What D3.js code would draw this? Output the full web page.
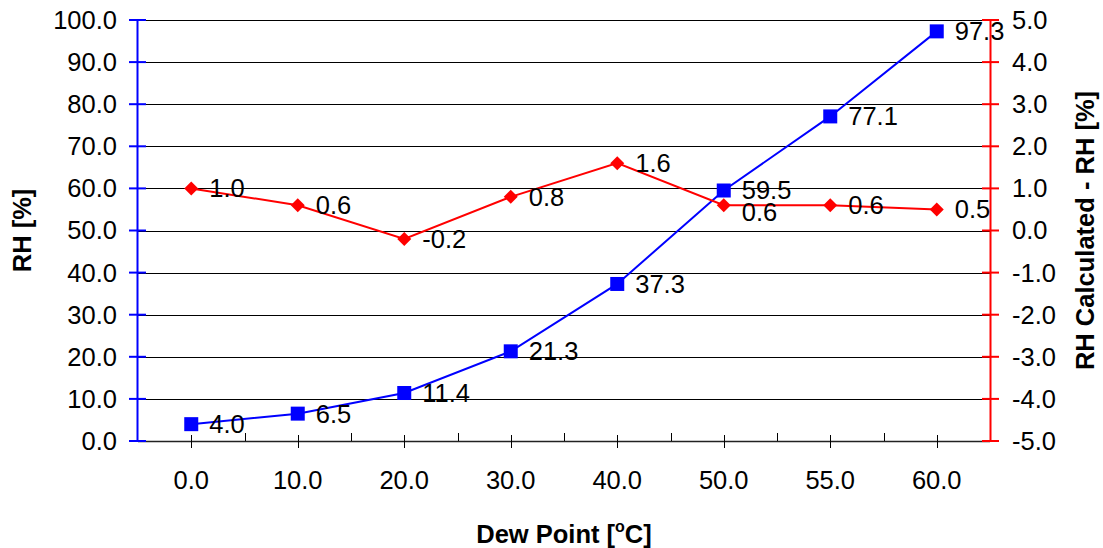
<!DOCTYPE html>
<html>
<head>
<meta charset="utf-8">
<script src="https://cdn.jsdelivr.net/npm/d3@7"></script>
<style>
  html, body { margin: 0; padding: 0; background: #fff; }
  text { font-family: "Liberation Sans", Arial, sans-serif; fill: #000; }
</style>
</head>
<body>
<svg id="chart" width="1103" height="548"></svg>
<script>
// ---- data ----
const categories = ["0.0", "10.0", "20.0", "30.0", "40.0", "50.0", "55.0", "60.0"];
const rhValues = [4.0, 6.5, 11.4, 21.3, 37.3, 59.5, 77.1, 97.3];
const diffValues = [1.0, 0.6, -0.2, 0.8, 1.6, 0.6, 0.6, 0.5];
const leftTicks = [0, 10, 20, 30, 40, 50, 60, 70, 80, 90, 100];
const rightTicks = [-5, -4, -3, -2, -1, 0, 1, 2, 3, 4, 5];
const xTitle = "Dew Point [";
const xTitleSup = "o";
const xTitleEnd = "C]";
const leftTitle = "RH [%]";
const rightTitle = "RH Calculated - RH [%]";

// ---- layout ----
const svg = d3.select("#chart");
const L = 138, R = 990, T = 20, B = 441;
const fs = 25.5;

const xBand = d3.scaleBand().domain(categories).range([L, R]).padding(0);
const xc = c => xBand(c) + xBand.bandwidth() / 2;
const yL = d3.scaleLinear().domain([0, 100]).range([B, T]);
const yR = d3.scaleLinear().domain([-5, 5]).range([B, T]);
const fmt = v => v.toFixed(1);

// gridlines
svg.append("g").selectAll("line").data(leftTicks.filter(v => v > 0)).join("line")
  .attr("x1", L).attr("x2", R)
  .attr("y1", d => Math.round(yL(d)) + 0.5).attr("y2", d => Math.round(yL(d)) + 0.5)
  .attr("stroke", "#000").attr("stroke-width", 1);

// x axis line
svg.append("line").attr("x1", L).attr("x2", R).attr("y1", B + 0.5).attr("y2", B + 0.5)
  .attr("stroke", "#222").attr("stroke-width", 1.5);

// x ticks: center ticks cross, boundary ticks inside
svg.append("g").selectAll("line").data(categories).join("line")
  .attr("x1", d => Math.round(xc(d)) + 0.5).attr("x2", d => Math.round(xc(d)) + 0.5)
  .attr("y1", B - 6).attr("y2", B + 7).attr("stroke", "#000").attr("stroke-width", 1);
svg.append("g").selectAll("line").data(categories.slice(1)).join("line")
  .attr("x1", d => Math.round(xBand(d)) + 0.5).attr("x2", d => Math.round(xBand(d)) + 0.5)
  .attr("y1", B - 8).attr("y2", B).attr("stroke", "#000").attr("stroke-width", 1);

// x tick labels
svg.append("g").selectAll("text").data(categories).join("text")
  .attr("x", d => xc(d)).attr("y", 489)
  .attr("text-anchor", "middle").attr("font-size", fs).text(d => d);

// left axis
svg.append("line").attr("x1", L - 0.5).attr("x2", L - 0.5).attr("y1", T).attr("y2", B + 1)
  .attr("stroke", "#0000ff").attr("stroke-width", 2);
svg.append("g").selectAll("line").data(leftTicks).join("line")
  .attr("x1", L - 9).attr("x2", L + 8)
  .attr("y1", d => yL(d)).attr("y2", d => yL(d))
  .attr("stroke", "#0000ff").attr("stroke-width", 2);
svg.append("g").selectAll("text").data(leftTicks).join("text")
  .attr("x", 117).attr("y", d => yL(d)).attr("dy", "0.35em")
  .attr("text-anchor", "end").attr("font-size", fs).text(d => fmt(d));

// right axis
svg.append("line").attr("x1", R + 0.5).attr("x2", R + 0.5).attr("y1", T).attr("y2", B + 1)
  .attr("stroke", "#ff0000").attr("stroke-width", 2);
svg.append("g").selectAll("line").data(rightTicks).join("line")
  .attr("x1", R - 8).attr("x2", R + 9)
  .attr("y1", d => yR(d)).attr("y2", d => yR(d))
  .attr("stroke", "#ff0000").attr("stroke-width", 2);
svg.append("g").selectAll("text").data(rightTicks).join("text")
  .attr("x", 1012).attr("y", d => yR(d)).attr("dy", "0.35em")
  .attr("text-anchor", "start").attr("font-size", fs).text(d => fmt(d));

// blue series
const blue = categories.map((c, i) => ({ c, v: rhValues[i] }));
svg.append("path").datum(blue)
  .attr("d", d3.line().x(d => xc(d.c)).y(d => yL(d.v)))
  .attr("fill", "none").attr("stroke", "#0000ff").attr("stroke-width", 2);
svg.append("g").selectAll("rect").data(blue).join("rect")
  .attr("x", d => xc(d.c) - 7).attr("y", d => yL(d.v) - 7)
  .attr("width", 14).attr("height", 14).attr("fill", "#0000ff");

// red series
const red = categories.map((c, i) => ({ c, v: diffValues[i] }));
svg.append("path").datum(red)
  .attr("d", d3.line().x(d => xc(d.c)).y(d => yR(d.v)))
  .attr("fill", "none").attr("stroke", "#ff0000").attr("stroke-width", 2);
svg.append("g").selectAll("path").data(red).join("path")
  .attr("transform", d => `translate(${xc(d.c)},${yR(d.v)})`)
  .attr("d", "M0,-7L7,0L0,7L-7,0Z").attr("fill", "#ff0000");

// data labels
svg.append("g").selectAll("text").data(blue).join("text")
  .attr("x", d => xc(d.c) + 18).attr("y", d => yL(d.v)).attr("dy", "0.35em")
  .attr("font-size", fs).text(d => fmt(d.v));
// red labels: nudge down when colliding with the blue label of the same category
const redLabelY = (d, i) => {
  const yr = yR(d.v), yb = yL(rhValues[i]);
  return (Math.abs(yr - yb) < 22) ? yb + 22 : yr;
};
svg.append("g").selectAll("text").data(red).join("text")
  .attr("x", d => xc(d.c) + 18).attr("y", (d, i) => redLabelY(d, i)).attr("dy", "0.35em")
  .attr("font-size", fs).text(d => fmt(d.v));

// axis titles
const xt = svg.append("text").attr("x", (L + R) / 2).attr("y", 543)
  .attr("text-anchor", "middle").attr("font-size", fs).attr("font-weight", "bold");
xt.append("tspan").text(xTitle);
xt.append("tspan").attr("font-size", 16).attr("dy", -11).text(xTitleSup);
xt.append("tspan").attr("dy", 11).text(xTitleEnd);

svg.append("text").attr("transform", `translate(31,${(T + B) / 2}) rotate(-90)`)
  .attr("text-anchor", "middle").attr("font-size", fs).attr("font-weight", "bold")
  .text(leftTitle);
svg.append("text").attr("transform", `translate(1094,${(T + B) / 2}) rotate(-90)`)
  .attr("text-anchor", "middle").attr("font-size", fs).attr("font-weight", "bold")
  .text(rightTitle);
</script>
</body>
</html>
